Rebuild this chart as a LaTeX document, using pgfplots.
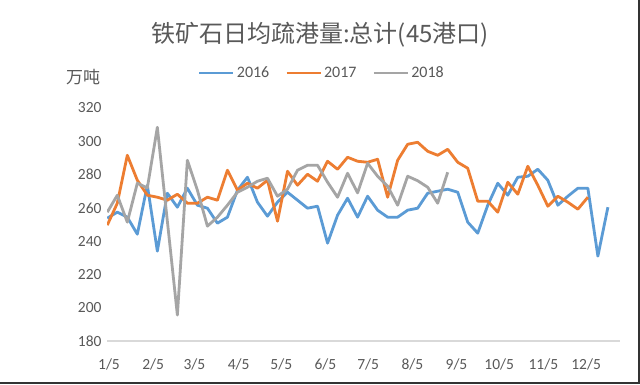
\documentclass[border=0pt]{standalone}
\usepackage{pgfplots}
\usepackage{pgfplotstable}
\pgfplotsset{compat=1.18}
\usepackage{fontspec}
\setmainfont{Carlito}
\newfontfamily\cjk{Noto Sans CJK SC}
\definecolor{c16}{HTML}{5B9BD5}
\definecolor{c17}{HTML}{ED7D31}
\definecolor{c18}{HTML}{A5A5A5}
\definecolor{txt}{HTML}{595959}
\definecolor{axl}{HTML}{D9D9D9}
\pgfplotstableread{
v
253.8
257.4
254.4
244.2
273.6
234.0
268.8
260.4
271.8
261.6
259.8
250.8
254.4
270.6
278.4
263.4
255.0
263.4
269.4
264.6
259.8
261.0
238.8
255.6
265.8
254.4
267.0
258.6
254.4
254.4
258.6
259.8
268.8
270.0
271.2
269.4
251.4
244.8
261.6
274.8
267.6
278.4
279.0
283.2
276.6
261.6
267.0
271.8
271.8
231.0
260.4
}\dataA
\pgfplotstableread{
v
249.6
262.8
291.6
276.6
267.6
266.4
264.6
268.2
262.8
262.8
266.4
264.6
282.6
270.6
274.8
271.8
276.6
252.0
282.0
273.6
280.2
276.0
288.0
283.2
290.4
288.0
287.4
289.2
266.4
288.6
298.2
299.4
294.0
291.6
295.2
287.4
283.8
264.0
264.0
257.4
275.4
268.2
285.0
273.6
261.0
267.0
263.4
259.2
266.4
}\dataB
\pgfplotstableread{
v
257.4
267.6
251.4
274.8
272.0
308.4
252.0
195.6
288.6
270.6
249.0
254.4
261.6
269.4
272.4
276.0
277.8
267.0
271.2
282.6
285.6
285.6
275.4
266.4
280.8
269.0
286.8
279.0
273.0
261.6
279.0
276.3
272.4
262.8
281.4
}\dataC
\begin{document}
\begin{tikzpicture}
\fill[white] (0,0) rectangle (640pt,384pt);
\path[use as bounding box] (0,0) rectangle (640pt,384pt);
\node[txt, font=\cjk\fontsize{24}{28}\selectfont] at (320pt,349pt) {铁矿石日均疏港量:总计(45港口)};
\node[txt, font=\cjk\fontsize{17}{20}\selectfont] at (83pt,307pt) {万吨};
\begin{axis}[
  at={(107pt,43pt)}, anchor=south west,
  width=513pt, height=233pt, scale only axis,
  xmin=3.6, xmax=363.8, ymin=180, ymax=320,
  axis x line*=bottom, axis y line*=left,
  x axis line style={draw=axl, line width=1.2pt},
  y axis line style={draw=none},
  xtick={5,36,65,96,126,157,187,218,249,279,310,340},
  xticklabels={1/5,2/5,3/5,4/5,5/5,6/5,7/5,8/5,9/5,10/5,11/5,12/5},
  ytick={180,200,...,320},
  major tick length=0pt,
  tick label style={font=\fontsize{15.5}{18}\selectfont, text=txt},
  /pgf/number format/assume math mode=true,
  x tick label style={yshift=-14pt},
  y tick label style={xshift=-2pt},
  legend style={at={(0.419,1.15)}, anchor=center, draw=none, fill=none,
    font=\fontsize{16}{19}\selectfont, text=txt,
    /tikz/every even column/.append style={column sep=14pt}},
  legend columns=3,
  legend image code/.code={\draw[#1, line width=2.8pt] (0pt,0pt) -- (34pt,0pt);},
  every axis plot/.append style={line width=2.8pt, line join=round, mark=none},
]
\addplot[c16] table[x expr=3.8+7.03*\coordindex, y=v] {\dataA};
\addlegendentry{2016}
\addplot[c17] table[x expr=3.8+7.03*\coordindex, y=v] {\dataB};
\addlegendentry{2017}
\addplot[c18] table[x expr=3.8+7.03*\coordindex, y=v] {\dataC};
\addlegendentry{2018}
\end{axis}
\draw[black!80, line width=2pt] (0,1pt) -- (639pt,1pt) -- (639pt,384pt);
\end{tikzpicture}
\end{document}
